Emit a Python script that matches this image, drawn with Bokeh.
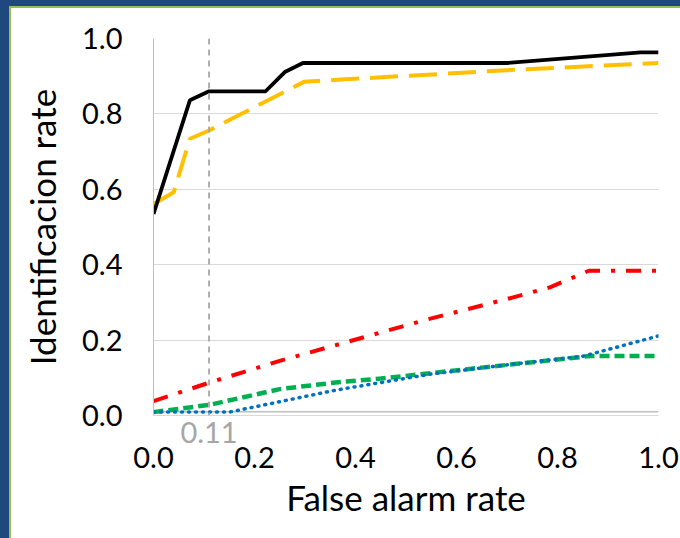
from bokeh.plotting import figure
from bokeh.models import Range1d, FixedTicker, Span, LinearAxis, InlineStyleSheet
from bokeh.embed import file_html
from bokeh.resources import INLINE

# ---- data ----
tick_values = [0.0, 0.2, 0.4, 0.6, 0.8, 1.0]
tick_labels = ["0.0", "0.2", "0.4", "0.6", "0.8", "1.0"]

threshold = 0.11
threshold_label = "0.11"

fa_black = [0.0, 0.072, 0.11, 0.222, 0.26, 0.296, 0.70, 0.965, 1.0]
id_black = [0.535, 0.836, 0.86, 0.86, 0.911, 0.935, 0.935, 0.963, 0.963]

fa_yellow = [0.0, 0.04, 0.072, 0.11, 0.222, 0.298, 0.37, 0.70, 1.0]
id_yellow = [0.561, 0.592, 0.734, 0.756, 0.833, 0.885, 0.891, 0.916, 0.935]

fa_red = [0.0, 0.11, 0.25, 0.54, 0.70, 0.785, 0.862, 1.0]
id_red = [0.038, 0.087, 0.145, 0.254, 0.309, 0.34, 0.384, 0.384]

fa_green = [0.0, 0.11, 0.25, 0.37, 0.45, 0.65, 0.866, 1.0]
id_green = [0.009, 0.028, 0.07, 0.089, 0.098, 0.127, 0.158, 0.158]

fa_blue = [0.0, 0.15, 0.36, 0.55, 0.71, 0.85, 1.0]
id_blue = [0.009, 0.009, 0.067, 0.11, 0.136, 0.157, 0.211]

fa_base = [0.0, 1.0]
id_base = [0.01, 0.01]

FONT = "Lato"
TICK_SIZE = "29px"
LABEL_SIZE = "35px"

frame_css = InlineStyleSheet(css="""
:host {
  background:
    linear-gradient(#1F497D, #1F497D) 0 0 / 9px 100% no-repeat,
    linear-gradient(#1F497D, #1F497D) 0 0 / 100% 6px no-repeat,
    linear-gradient(#9BBB59, #9BBB59) 9px 6px / 2px 100% no-repeat,
    linear-gradient(#9BBB59, #9BBB59) 9px 6px / 100% 2px no-repeat,
    #FFFFFF;
}
""")

p = figure(width=680, height=538, output_backend="svg", toolbar_location=None,
           x_range=Range1d(0, 1), y_range=Range1d(0, 1), x_axis_location=None,
           min_border_left=153, min_border_right=22, min_border_top=38, min_border_bottom=123,
           background_fill_color="white", border_fill_color="white", border_fill_alpha=0)
p.stylesheets = [frame_css]
p.outline_line_color = None


def style_axis(ax, ticks, labels, color):
    ax.ticker = FixedTicker(ticks=ticks)
    ax.major_label_overrides = {v: s for v, s in zip(ticks, labels)}
    ax.major_tick_line_color = None
    ax.minor_tick_line_color = None
    ax.major_tick_out = 0
    ax.major_tick_in = 0
    ax.minor_tick_out = 0
    ax.major_label_text_font = FONT
    ax.major_label_text_font_size = TICK_SIZE
    ax.major_label_text_color = color
    ax.axis_label_text_font = FONT
    ax.axis_label_text_font_size = LABEL_SIZE
    ax.axis_label_text_font_style = "normal"
    ax.axis_label_text_color = "black"


# threshold axis (nearest the frame), carries the x axis line
thr_axis = LinearAxis()
style_axis(thr_axis, [threshold], [threshold_label], "#A6A6A6")
thr_axis.axis_line_color = "#D9D9D9"
thr_axis.major_label_standoff = 6
p.add_layout(thr_axis, "below")

# main x axis
x_axis = LinearAxis(axis_label="False alarm rate")
style_axis(x_axis, tick_values, tick_labels, "black")
x_axis.axis_line_color = None
x_axis.major_label_standoff = 1
x_axis.axis_label_standoff = 5
p.add_layout(x_axis, "below")

y_axis = p.yaxis[0]
style_axis(y_axis, tick_values, tick_labels, "black")
y_axis.axis_label = "Identificacion rate"
y_axis.axis_line_color = "#BFBFBF"
y_axis.major_label_standoff = 31
y_axis.axis_label_standoff = 16

p.xgrid.grid_line_color = None
p.ygrid.ticker = FixedTicker(ticks=tick_values)
p.ygrid.grid_line_color = "#D9D9D9"
p.ygrid.grid_line_width = 1.2

# baseline
p.line(fa_base, id_base, line_color="#BFBFBF", line_width=1.5)

# threshold marker
p.add_layout(Span(location=threshold, dimension="height", line_color="#A6A6A6",
                  line_width=1.8, line_dash="6 5"))

p.line(fa_green, id_green, line_color="#00B050", line_width=4.5, line_dash="10 5")
p.line(fa_blue, id_blue, line_color="#0070C0", line_width=3.5, line_dash="1 6",
       line_cap="round")
p.line(fa_red, id_red, line_color="#FF0000", line_width=4, line_dash="15 11 4 11")
p.line(fa_yellow, id_yellow, line_color="#FFC000", line_width=4, line_dash="28 11")
p.line(fa_black, id_black, line_color="black", line_width=3.8)

open("out.html", "w").write(file_html(p, INLINE))
